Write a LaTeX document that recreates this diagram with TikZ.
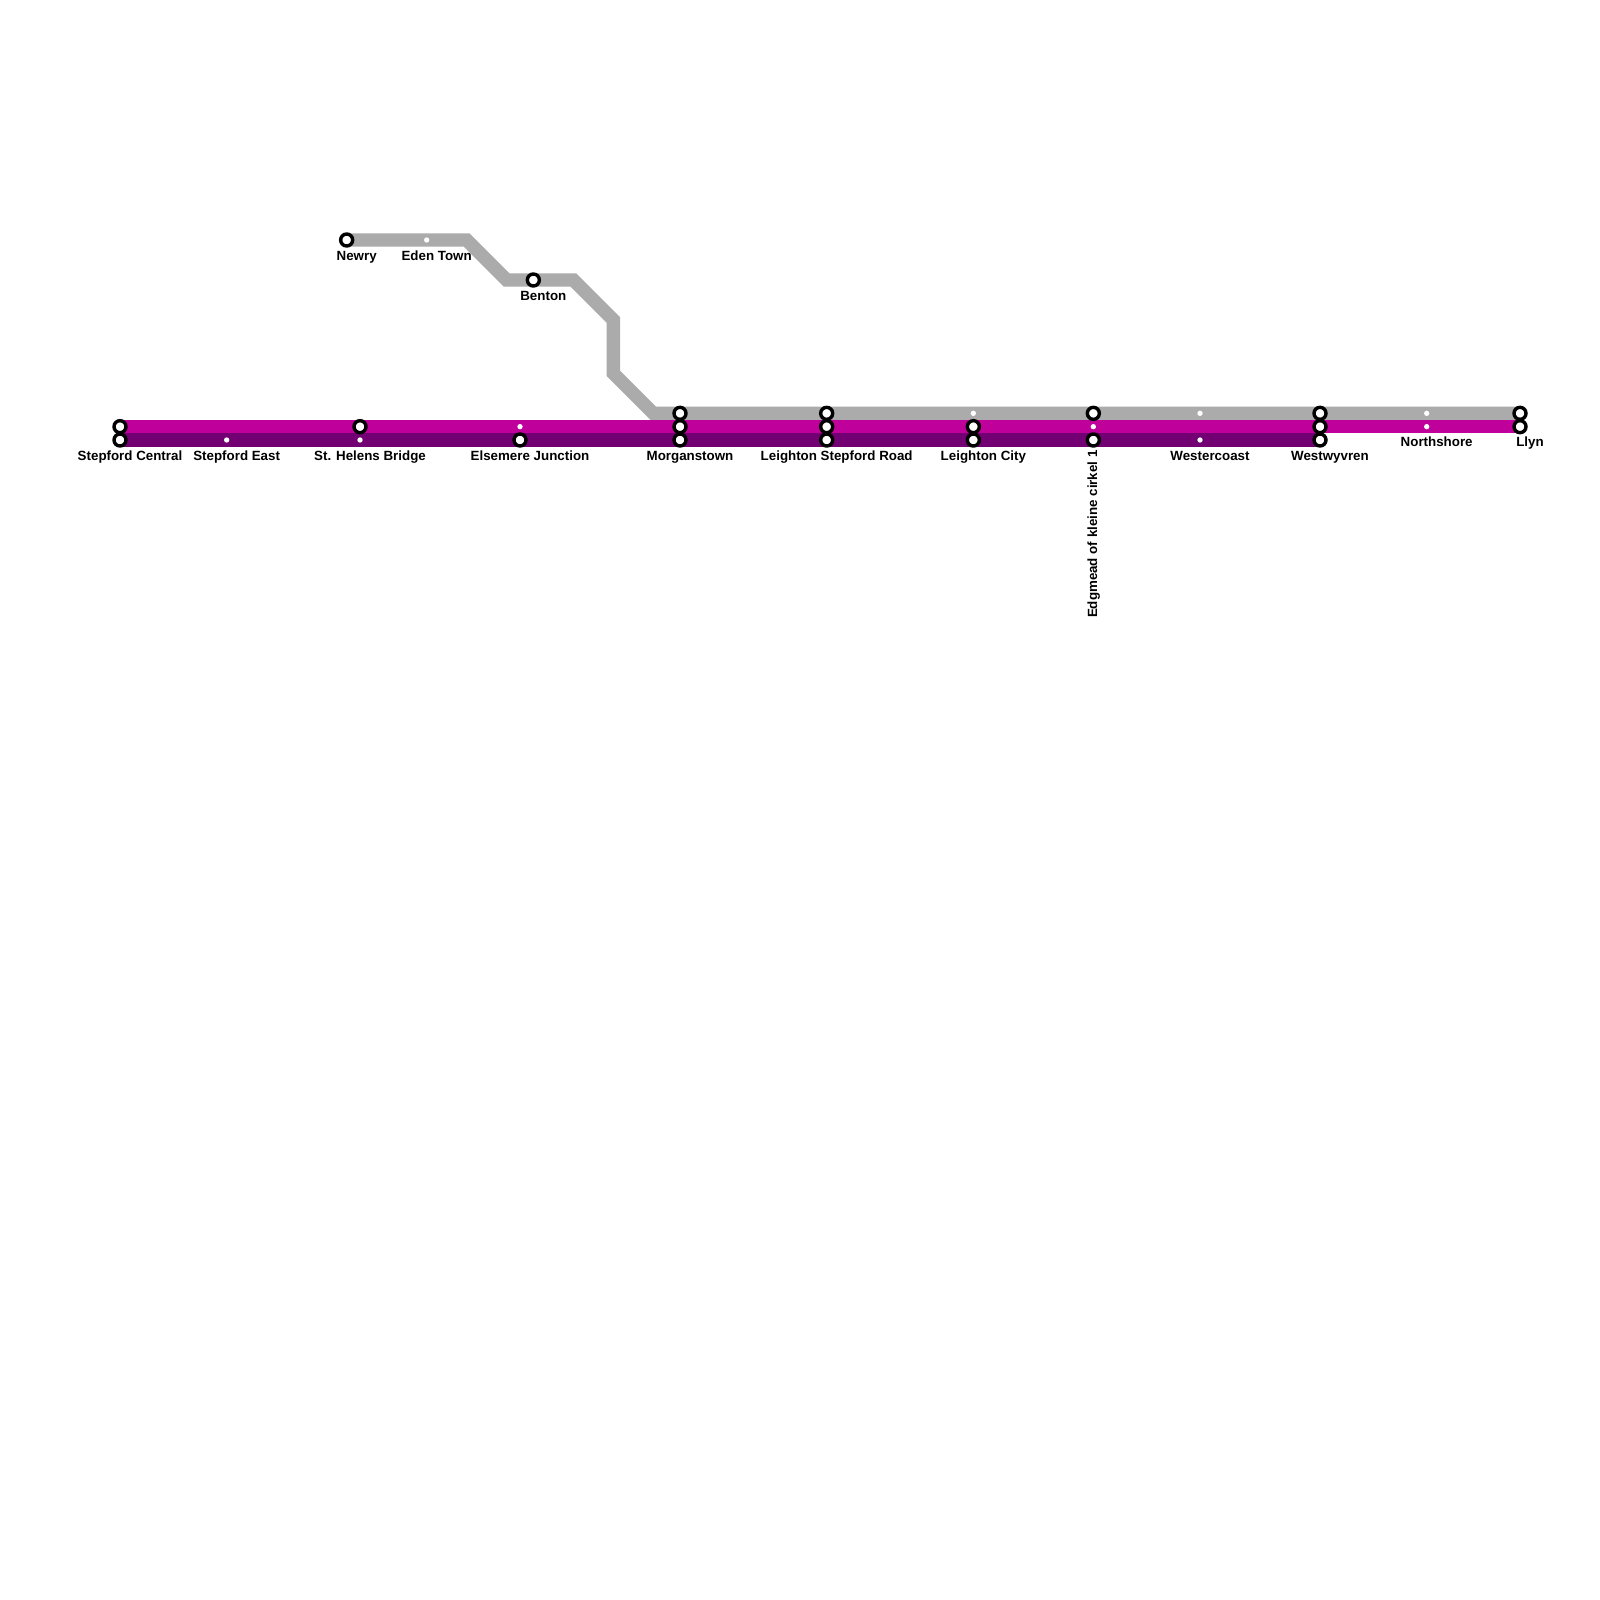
\documentclass[tikz,border=0pt]{standalone}
\usepackage{fontspec}
\setmainfont{Liberation Sans}
\usetikzlibrary{backgrounds}
\definecolor{linegray}{HTML}{ABABAB}
\definecolor{linemag}{HTML}{BF009A}
\definecolor{linepur}{HTML}{720072}
\tikzset{
  x=0.5pt,y=-0.5pt,
  bigstop/.style={circle,draw=black,fill=white,line width=1.7pt,minimum size=6pt,inner sep=0pt,outer sep=0pt},
  smallstop/.style={circle,fill=white,minimum size=2.67pt,inner sep=0pt,outer sep=0pt},
  kink/.style={inner sep=0pt,outer sep=0pt,minimum size=0pt},
  lbl/.style={font=\fontsize{6.67pt}{8pt}\selectfont\bfseries,anchor=base,inner sep=0pt,text=black},
  metro/.style={line width=6.667pt,line cap=butt,line join=miter},
}
\begin{document}
\begin{tikzpicture}
\useasboundingbox (0,0) rectangle (1600,1600);
% gray line stops
\node[bigstop] (gNewry) at (346.67,240) {};
\node[smallstop] (gEden) at (426.67,240) {};
\node[kink] (g1) at (466.67,240) {};
\node[kink] (g2) at (506.67,280) {};
\node[bigstop] (gBenton) at (533.33,280) {};
\node[kink] (g3) at (573.33,280) {};
\node[kink] (g4) at (613.33,320) {};
\node[kink] (g5) at (613.33,373.33) {};
\node[kink] (g6) at (653.33,413.33) {};
\node[bigstop] (gMorg) at (680,413.33) {};
\node[bigstop] (gLSR) at (826.67,413.33) {};
\node[smallstop] (gLC) at (973.33,413.33) {};
\node[bigstop] (gEdg) at (1093.33,413.33) {};
\node[smallstop] (gWest) at (1200,413.33) {};
\node[bigstop] (gWyv) at (1320,413.33) {};
\node[smallstop] (gNorth) at (1426.67,413.33) {};
\node[bigstop] (gLlyn) at (1520,413.33) {};
% magenta line stops
\node[bigstop] (mSC) at (120,426.67) {};
\node[bigstop] (mStH) at (360,426.67) {};
\node[smallstop] (mEls) at (520,426.67) {};
\node[bigstop] (mMorg) at (680,426.67) {};
\node[bigstop] (mLSR) at (826.67,426.67) {};
\node[bigstop] (mLC) at (973.33,426.67) {};
\node[smallstop] (mEdg) at (1093.33,426.67) {};
\node[bigstop] (mWyv) at (1320,426.67) {};
\node[smallstop] (mNorth) at (1426.67,426.67) {};
\node[bigstop] (mLlyn) at (1520,426.67) {};
% purple line stops
\node[bigstop] (pSC) at (120,440) {};
\node[smallstop] (pSE) at (226.67,440) {};
\node[smallstop] (pStH) at (360,440) {};
\node[bigstop] (pEls) at (520,440) {};
\node[bigstop] (pMorg) at (680,440) {};
\node[bigstop] (pLSR) at (826.67,440) {};
\node[bigstop] (pLC) at (973.33,440) {};
\node[bigstop] (pEdg) at (1093.33,440) {};
\node[smallstop] (pWest) at (1200,440) {};
\node[bigstop] (pWyv) at (1320,440) {};
% lines
\begin{scope}[on background layer]
\fill[white] (0,0) rectangle (1600,1600);
\draw[metro,linegray] (gNewry.center) -- (g1.center) -- (g2.center) -- (g3.center) -- (g4.center) -- (g5.center) -- (g6.center) -- (gLlyn.center);
\draw[metro,linemag] (mSC.center) -- (mLlyn.center);
\draw[metro,linepur] (pSC.center) -- (pWyv.center);
\end{scope}
% labels
\node[lbl] (tNewry) at (356.67,260) {Newry};
\node[lbl] (tEden) at (436.67,260) {Eden Town};
\node[lbl] (tBenton) at (543.33,300) {Benton};
\node[lbl] (tSC) at (130,460) {Stepford Central};
\node[lbl] (tSE) at (236.67,460) {Stepford East};
\node[lbl] (tStH) at (370,460) {St. Helens Bridge};
\node[lbl] (tEls) at (530,460) {Elsemere Junction};
\node[lbl] (tMorg) at (690,460) {Morganstown};
\node[lbl] (tLSR) at (836.67,460) {Leighton Stepford Road};
\node[lbl] (tLC) at (983.33,460) {Leighton City};
\node[lbl,anchor=base east,rotate=90] (tEdg) at (1097,450) {Edgmead of kleine cirkel 1};
\node[lbl] (tWest) at (1210,460) {Westercoast};
\node[lbl] (tWyv) at (1330,460) {Westwyvren};
\node[lbl] (tNorth) at (1436.67,446.67) {Northshore};
\node[lbl] (tLlyn) at (1530,446.67) {Llyn};
\end{tikzpicture}
\end{document}
